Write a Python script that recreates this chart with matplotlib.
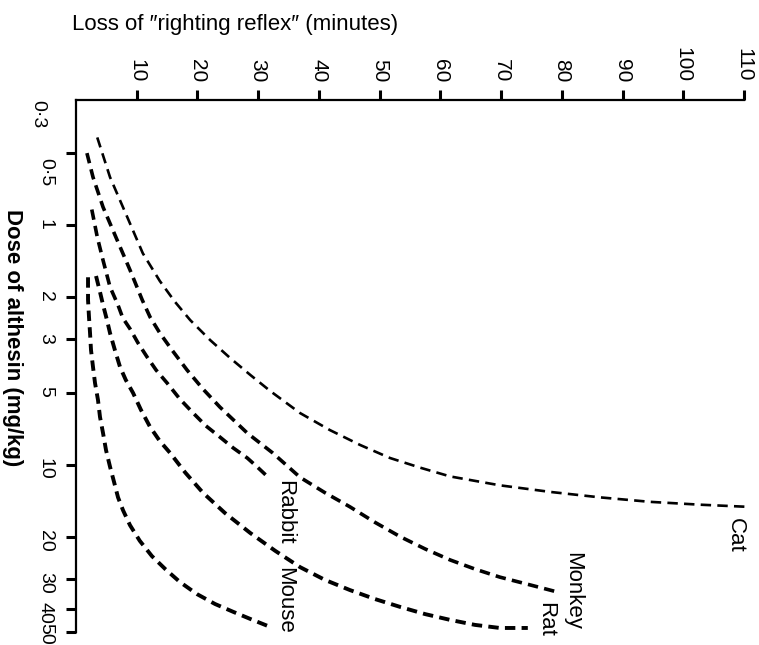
import matplotlib
matplotlib.use("Agg")
import matplotlib.pyplot as plt
from matplotlib import font_manager
from matplotlib.ticker import NullLocator
from matplotlib.transforms import ScaledTranslation

# minutes of lost righting reflex vs dose of althesin (mg/kg)
cat_min = [3.5, 5.6, 8.4, 11.0, 13.8, 16.3, 18.8, 22.1, 25.4, 28.7, 32.0, 36.9, 41.8, 46.8, 51.7,
           56.7, 61.6, 69.8, 78.1, 86.3, 94.5, 102.8, 110.5]
cat_dose = [0.43, 0.63, 0.92, 1.31, 1.71, 2.09, 2.49, 3.02, 3.59, 4.22, 4.93, 6.09, 7.17, 8.28, 9.38,
            10.3, 11.2, 12.2, 13.0, 13.7, 14.3, 14.7, 15.0]

monkey_min = [1.8, 2.8, 4.45, 6.75, 8.9, 10.9, 12.2, 13.8, 15.8, 18.3, 20.9, 23.7, 28.2, 32.4, 36.9,
              41.0, 45.1, 49.2, 53.4, 57.5, 61.6, 65.7, 69.8, 74.8, 79.2]
monkey_dose = [0.5, 0.63, 0.84, 1.15, 1.54, 2.05, 2.42, 2.82, 3.32, 4.03, 4.83, 5.75, 7.38, 8.94, 11.3,
               13.1, 15.0, 17.4, 20.0, 22.5, 25.0, 27.3, 29.5, 31.8, 34.0]

rabbit_min = [2.6, 3.5, 4.45, 5.6, 6.9, 7.7, 8.9, 10.2, 11.7, 13.2, 15.0, 17.1, 19.3, 21.4, 23.7,
              25.9, 28.2, 29.8, 31.5]
rabbit_dose = [0.86, 1.12, 1.4, 1.81, 2.15, 2.44, 2.71, 3.1, 3.55, 4.03, 4.56, 5.32, 6.09, 6.89, 7.67,
               8.52, 9.38, 10.2, 11.2]

rat_min = [3.3, 3.95, 4.45, 5.1, 5.6, 6.4, 7.25, 8.2, 9.4, 10.7, 12.2, 13.8, 15.5, 18.0, 20.9, 24.5,
           28.7, 32.8, 36.9, 41.0, 45.1, 49.2, 53.4, 57.5, 61.6, 65.7, 69.8, 74.4]
rat_dose = [1.63, 1.9, 2.15, 2.49, 2.82, 3.32, 3.91, 4.43, 5.02, 5.91, 6.96, 7.97, 8.94, 10.8, 13.1, 15.9,
            19.3, 22.9, 26.8, 30.3, 33.4, 36.4, 39.3, 42.1, 44.5, 46.7, 48.1, 48.1]

mouse_min = [1.98, 1.98, 2.14, 2.31, 2.47, 2.8, 3.13, 3.62, 3.95, 4.45, 4.94, 5.6, 6.26, 6.92, 7.74,
             8.89, 10.5, 12.5, 14.7, 17.1, 19.9, 22.9, 25.9, 28.7, 32.4]
mouse_dose = [1.65, 2.05, 2.42, 2.82, 3.32, 3.91, 4.56, 5.37, 6.32, 7.38, 8.69, 10.2, 11.8, 13.7, 15.5,
              17.9, 20.8, 24.1, 27.3, 30.9, 34.7, 38.2, 41.2, 44.1, 48.1]

x_ticks = [10, 20, 30, 40, 50, 60, 70, 80, 90, 100, 110]
y_ticks = [0.5, 1, 2, 3, 5, 10, 20, 30, 40, 50]
y_tick_labels = ["0\u00b75", "1", "2", "3", "5", "10", "20", "30", "40", "50"]

names = {f.name for f in font_manager.fontManager.ttflist}
NARROW = "Liberation Sans Narrow" if "Liberation Sans Narrow" in names else "Liberation Sans"
plt.rcParams["font.family"] = ["Liberation Sans", "DejaVu Sans"]
plt.rcParams["lines.scale_dashes"] = False

fig = plt.figure(figsize=(7.59, 6.45), dpi=100)
ax = fig.add_axes([76 / 759, 13 / 645, 668 / 759, 532 / 645])

curves = [
    (cat_min, cat_dose, 1.9),
    (monkey_min, monkey_dose, 2.6),
    (rabbit_min, rabbit_dose, 2.6),
    (rat_min, rat_dose, 2.8),
    (mouse_min, mouse_dose, 2.8),
]
for xs, ys, lw in curves:
    ax.plot(xs, ys, color="black", lw=lw, linestyle=(0, (7.5, 4.5)),
            dash_joinstyle="round", clip_on=False)

ax.set_xlim(0, 110)
ax.set_yscale("log")
ax.set_ylim(50, 0.3)

ax.xaxis.tick_top()
ax.set_xticks(x_ticks)
ax.set_xticklabels([str(v) for v in x_ticks], rotation=-90, family=NARROW, fontsize=15)
ax.set_yticks(y_ticks)
ax.set_yticklabels(y_tick_labels, rotation=-90, family=NARROW, fontsize=14)
ax.yaxis.set_minor_locator(NullLocator())

for side in ("right", "bottom"):
    ax.spines[side].set_visible(False)
for side in ("top", "left"):
    ax.spines[side].set_linewidth(1.6)
ax.tick_params(direction="out", length=7, width=2.2, color="black")
ax.tick_params(axis="x", pad=6)
ax.tick_params(axis="y", pad=9)

# nudge the crowded end labels like the original lettering
ylabels = ax.get_yticklabels()
ylabels[0].set_transform(ylabels[0].get_transform() + ScaledTranslation(0, -8 / 72, fig.dpi_scale_trans))
ylabels[-1].set_transform(ylabels[-1].get_transform() + ScaledTranslation(0, 2 / 72, fig.dpi_scale_trans))

# 0.3 sits at the axis corner with no tick
ax.text(-0.044, 0.3, "0\u00b73", transform=ax.get_yaxis_transform(), rotation=-90,
        ha="right", va="top", family=NARROW, fontsize=14)

label_style = dict(rotation=-90, ha="center", va="top", fontsize=16, family=NARROW)
ax.text(34.3, 11.6, "Rabbit", **label_style)
ax.text(34.4, 26.8, "Mouse", **label_style)
ax.text(81.7, 23.2, "Monkey", **label_style)
ax.text(77.4, 37.5, "Rat", **label_style)
ax.text(108.5, 16.7, "Cat", **label_style)

fig.text(72 / 759, 1 - 30 / 645, "Loss of \u2033righting reflex\u2033 (minutes)",
         fontsize=16, va="baseline", ha="left")
fig.text(12 / 759, 1 - 338 / 645, "Dose of althesin (mg/kg)", rotation=-90,
         fontsize=16, fontweight="bold", ha="center", va="center", family=NARROW)

fig.savefig("out.png", dpi=100)
